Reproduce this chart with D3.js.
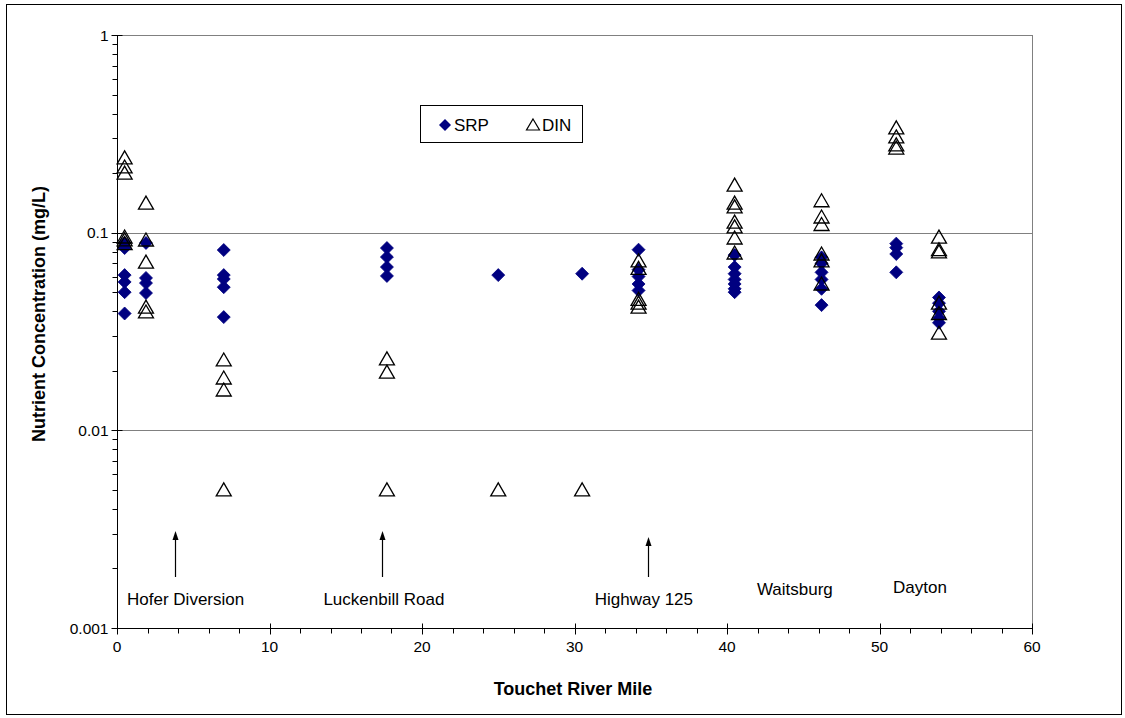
<!DOCTYPE html>
<html><head><meta charset="utf-8">
<script src="https://cdn.jsdelivr.net/npm/d3@7"></script>
<style>body{margin:0;background:#fff;} text{font-family:"Liberation Sans",Arial,sans-serif;}</style>
</head><body>
<svg id="c" width="1125" height="718"></svg>
<script>
const srpMiles = [0.5,0.5,0.5,0.5,0.5,0.5, 1.9,1.9,1.9,1.9, 7.0,7.0,7.0,7.0,7.0, 17.7,17.7,17.7,17.7, 25.0, 30.5, 34.2,34.2,34.2,34.2,34.2, 40.5,40.5,40.5,40.5,40.5,40.5,40.5, 46.2,46.2,46.2,46.2,46.2,46.2, 51.1,51.1,51.1,51.1, 53.9,53.9,53.9,53.9,53.9];
const srpValues = [0.0887,0.0836,0.061,0.0563,0.050,0.039, 0.0887,0.059,0.0556,0.0495, 0.0817,0.061,0.0583,0.053,0.0374, 0.0836,0.0753,0.067,0.0604, 0.061, 0.062, 0.082,0.065,0.060,0.055,0.051, 0.077,0.067,0.062,0.058,0.055,0.052,0.050, 0.075,0.070,0.063,0.058,0.052,0.043, 0.088,0.084,0.078,0.063, 0.047,0.044,0.040,0.037,0.035];
const dinMiles = [0.5,0.5,0.5,0.5,0.5,0.5, 1.9,1.9,1.9,1.9,1.9, 7.0,7.0,7.0,7.0, 17.7,17.7,17.7, 25.0, 30.5, 34.2,34.2,34.2,34.2,34.2, 40.5,40.5,40.5,40.5,40.5,40.5,40.5, 46.2,46.2,46.2,46.2,46.2,46.2, 51.1,51.1,51.1,51.1, 53.9,53.9,53.9,53.9,53.9,53.9];
const dinValues = [0.239,0.215,0.200,0.0951,0.092,0.088, 0.141,0.0918,0.071,0.042,0.0397, 0.0227,0.0184,0.016,0.005, 0.023,0.0197,0.005, 0.005, 0.005, 0.072,0.066,0.046,0.044,0.042, 0.174,0.141,0.135,0.113,0.107,0.094,0.0789, 0.145,0.12,0.11,0.078,0.072,0.055, 0.339,0.305,0.278,0.268, 0.095,0.082,0.080,0.044,0.039,0.031];
const xTicks = [0,10,20,30,40,50,60];
const yTicks = [1,0.1,0.01,0.001];
const yTickLabels = ["1","0.1","0.01","0.001"];
const annotations = [
  {label:"Hofer Diversion", mile:4.5, arrowMile:3.8, arrow:true, dy:0},
  {label:"Luckenbill Road", mile:17.5, arrowMile:17.4, arrow:true, dy:0},
  {label:"Highway 125", mile:34.55, arrowMile:34.8, arrow:true, dy:0},
  {label:"Waitsburg", mile:44.45, arrow:false, dy:-10},
  {label:"Dayton", mile:52.65, arrow:false, dy:-12}
];

const svg = d3.select("#c");
const L=117, R=1032, T=35, B=628;
const x = d3.scaleLinear().domain([0,60]).range([L,R]);
const y = d3.scaleLog().domain([0.001,1]).range([B,T]);

svg.append("rect").attr("x",6.5).attr("y",4.5).attr("width",1115).attr("height",710)
  .attr("fill","none").attr("stroke","#000").attr("stroke-width",1);

svg.append("g").selectAll("line").data([0.1,0.01]).join("line")
  .attr("x1",L).attr("x2",R).attr("y1",d=>Math.round(y(d))+0.5).attr("y2",d=>Math.round(y(d))+0.5)
  .attr("stroke","#808080").attr("stroke-width",1);
svg.append("line").attr("x1",L).attr("x2",R).attr("y1",T+0.5).attr("y2",T+0.5).attr("stroke","#808080");
svg.append("line").attr("x1",R+0.5).attr("x2",R+0.5).attr("y1",T).attr("y2",B).attr("stroke","#808080");

const minorY = [];
for (let e=-3;e<0;e++) for (let m=2;m<=9;m++) minorY.push(m*Math.pow(10,e));
const ya = svg.append("g").attr("transform",`translate(${L+0.5},0)`);
ya.append("line").attr("y1",T).attr("y2",B).attr("stroke","#000");
ya.selectAll(".mi").data(minorY).join("line").attr("class","mi")
  .attr("x1",-5).attr("x2",0).attr("y1",d=>Math.round(y(d))+0.5).attr("y2",d=>Math.round(y(d))+0.5).attr("stroke","#000");
ya.selectAll(".ma").data(yTicks).join("line").attr("class","ma")
  .attr("x1",-6).attr("x2",5).attr("y1",d=>Math.round(y(d))+0.5).attr("y2",d=>Math.round(y(d))+0.5).attr("stroke","#000");
ya.selectAll("text").data(yTicks).join("text")
  .attr("x",-9).attr("y",d=>y(d)+5.5).attr("text-anchor","end").attr("font-size",15.5)
  .text((d,i)=>yTickLabels[i]);

const xa = svg.append("g").attr("transform",`translate(0,${B+0.5})`);
xa.append("line").attr("x1",L).attr("x2",R).attr("stroke","#000");
xa.selectAll(".mi").data(d3.range(0,61,2)).join("line").attr("class","mi")
  .attr("x1",d=>Math.round(x(d))+0.5).attr("x2",d=>Math.round(x(d))+0.5).attr("y1",0).attr("y2",5).attr("stroke","#000");
xa.selectAll(".ma").data(xTicks).join("line").attr("class","ma")
  .attr("x1",d=>Math.round(x(d))+0.5).attr("x2",d=>Math.round(x(d))+0.5).attr("y1",-5).attr("y2",6).attr("stroke","#000");
xa.selectAll("text").data(xTicks).join("text")
  .attr("x",d=>x(d)).attr("y",23).attr("text-anchor","middle").attr("font-size",15.5).text(d=>d);

svg.append("text").attr("x",573).attr("y",695).attr("text-anchor","middle")
  .attr("font-size",18).attr("font-weight","bold").text("Touchet River Mile");
svg.append("text").attr("transform",`translate(45,314) rotate(-90)`).attr("text-anchor","middle")
  .attr("font-size",18).attr("font-weight","bold").text("Nutrient Concentration (mg/L)");

const diamond = "M0,-6.5L6.5,0L0,6.5L-6.5,0Z";
const tri = "M0,-7L7.5,6L-7.5,6Z";
svg.append("g").selectAll("path").data(srpValues).join("path")
  .attr("d",diamond).attr("transform",(d,i)=>`translate(${x(srpMiles[i])},${y(d)})`)
  .attr("fill","#000080").attr("stroke","#000080").attr("stroke-width",0.8);
svg.append("g").selectAll("path").data(dinValues).join("path")
  .attr("d",tri).attr("transform",(d,i)=>`translate(${x(dinMiles[i])},${y(d)})`)
  .attr("fill","none").attr("stroke","#000").attr("stroke-width",1.3);

const ann = svg.append("g");
ann.selectAll("text").data(annotations).join("text")
  .attr("x",d=>x(d.mile)).attr("y",d=>605+d.dy).attr("text-anchor","middle").attr("font-size",17).text(d=>d.label);
const arr = annotations.filter(d=>d.arrow);
ann.selectAll("line").data(arr).join("line")
  .attr("x1",d=>Math.round(x(d.arrowMile))+0.5).attr("x2",d=>Math.round(x(d.arrowMile))+0.5)
  .attr("y1",577).attr("y2",d=>d.label==="Highway 125"?542:537).attr("stroke","#000").attr("stroke-width",1.2);
ann.selectAll("path").data(arr).join("path")
  .attr("d",d=>{const cx=Math.round(x(d.arrowMile))+0.5, ty=d.label==="Highway 125"?537:531; return `M${cx},${ty}L${cx+3},${ty+9}L${cx-3},${ty+9}Z`;})
  .attr("fill","#000");

const lg = svg.append("g");
lg.append("rect").attr("x",420.5).attr("y",105.5).attr("width",162).attr("height",37).attr("fill","#fff").attr("stroke","#000");
lg.append("path").attr("d","M0,-6L6,0L0,6L-6,0Z").attr("transform","translate(445,125)").attr("fill","#000080");
lg.append("text").attr("x",454).attr("y",131).attr("font-size",17).text("SRP");
lg.append("path").attr("d","M0,-6L6.5,5L-6.5,5Z").attr("transform","translate(533,125)").attr("fill","none").attr("stroke","#000").attr("stroke-width",1.2);
lg.append("text").attr("x",542).attr("y",131).attr("font-size",17).text("DIN");
</script>
</body></html>
